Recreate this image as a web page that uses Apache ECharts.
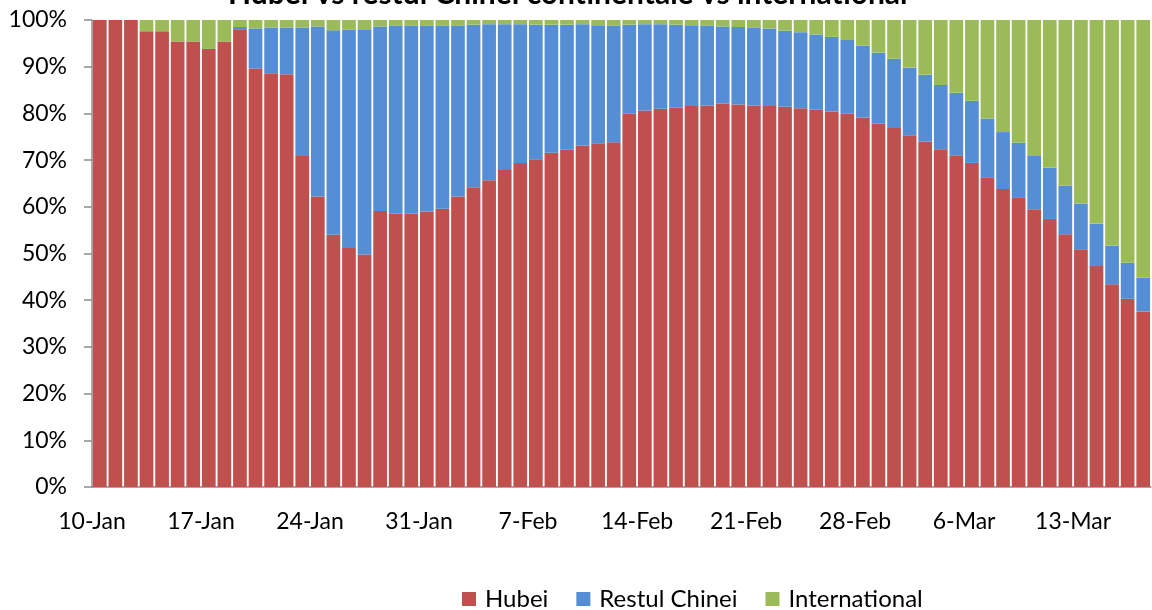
<!DOCTYPE html>
<html lang="ro">
<head>
    <meta charset="UTF-8">
    <title>Hubei vs restul Chinei continentale vs international</title>
    <style>
        * { padding: 0; margin: 0; }
        body { background: #fff; }
    </style>
</head>
<body>
<div id="share_chart" style="width: 1152px;height:610px;"></div>
<script src="https://cdn.jsdelivr.net/npm/echarts@6/dist/echarts.min.js"></script>
<script>
    // zilele 10-Jan .. 17-Mar
    var days = ['10-Jan','11-Jan','12-Jan','13-Jan','14-Jan','15-Jan','16-Jan','17-Jan','18-Jan','19-Jan',
        '20-Jan','21-Jan','22-Jan','23-Jan','24-Jan','25-Jan','26-Jan','27-Jan','28-Jan','29-Jan',
        '30-Jan','31-Jan','1-Feb','2-Feb','3-Feb','4-Feb','5-Feb','6-Feb','7-Feb','8-Feb',
        '9-Feb','10-Feb','11-Feb','12-Feb','13-Feb','14-Feb','15-Feb','16-Feb','17-Feb','18-Feb',
        '19-Feb','20-Feb','21-Feb','22-Feb','23-Feb','24-Feb','25-Feb','26-Feb','27-Feb','28-Feb',
        '29-Feb','1-Mar','2-Mar','3-Mar','4-Mar','5-Mar','6-Mar','7-Mar','8-Mar','9-Mar',
        '10-Mar','11-Mar','12-Mar','13-Mar','14-Mar','15-Mar','16-Mar','17-Mar'];

    // procente din total cazuri
    var hubei = [100, 100, 100, 97.6, 97.6, 95.4, 95.4, 93.8, 95.4, 98.0,
        89.6, 88.6, 88.4, 70.9, 62.2, 54.0, 51.2, 49.8, 59.1, 58.5,
        58.5, 59.0, 59.6, 62.2, 64.2, 65.7, 67.9, 69.4, 70.2, 71.6,
        72.2, 73.1, 73.6, 73.8, 79.9, 80.6, 81.0, 81.2, 81.6, 81.7,
        82.1, 81.9, 81.7, 81.6, 81.4, 81.1, 80.8, 80.4, 79.9, 79.1,
        77.8, 76.9, 75.3, 74.0, 72.3, 70.9, 69.4, 66.2, 63.8, 61.9,
        59.5, 57.4, 54.1, 50.9, 47.3, 43.4, 40.3, 37.6];
    var restulChinei = [0, 0, 0, 0, 0, 0, 0, 0, 0, 0.5,
        8.6, 9.8, 10.0, 27.5, 36.4, 43.8, 46.7, 48.2, 39.5, 40.3,
        40.3, 39.8, 39.2, 36.6, 34.8, 33.4, 31.2, 29.7, 28.8, 27.4,
        26.8, 26.0, 25.3, 25.0, 19.1, 18.5, 18.1, 17.8, 17.3, 17.1,
        16.5, 16.6, 16.6, 16.6, 16.3, 16.3, 16.1, 16.0, 15.8, 15.4,
        15.2, 14.8, 14.5, 14.3, 13.8, 13.5, 13.3, 12.7, 12.2, 11.8,
        11.4, 11.0, 10.4, 9.8, 9.1, 8.3, 7.7, 7.2];
    var international = [0, 0, 0, 2.4, 2.4, 4.6, 4.6, 6.2, 4.6, 1.5,
        1.8, 1.6, 1.6, 1.6, 1.4, 2.2, 2.1, 2.0, 1.4, 1.2,
        1.2, 1.2, 1.2, 1.2, 1.0, 0.9, 0.9, 0.9, 1.0, 1.0,
        1.0, 0.9, 1.1, 1.2, 1.0, 0.9, 0.9, 1.0, 1.1, 1.2,
        1.4, 1.5, 1.7, 1.8, 2.3, 2.6, 3.1, 3.6, 4.3, 5.5,
        7.0, 8.3, 10.2, 11.7, 13.9, 15.6, 17.3, 21.1, 24.0, 26.3,
        29.1, 31.6, 35.5, 39.3, 43.6, 48.3, 52.0, 55.2];

    var fontFam = 'Lato, "Open Sans", sans-serif';
    var share_chart = echarts.init(document.getElementById('share_chart'));
    var option = {
        animation: false,
        textStyle: { fontFamily: fontFam },
        title: {
            text: 'Hubei vs restul Chinei continentale vs international',
            left: 223,
            top: -26,
            textStyle: { fontSize: 30, fontWeight: 'bold', color: '#000', fontFamily: fontFam }
        },
        legend: {
            data: ['Hubei', 'Restul Chinei', 'International'],
            left: 457,
            top: 582,
            icon: 'rect',
            itemWidth: 14,
            itemHeight: 14,
            itemGap: 28,
            textStyle: { fontSize: 24, color: '#000', padding: [0, 0, 0, 4] }
        },
        grid: { left: 92, right: 1, top: 20, bottom: 123 },
        xAxis: {
            type: 'category',
            data: days,
            axisLine: { lineStyle: { color: '#8c8c8c', width: 1.5 } },
            axisTick: { interval: 6, length: 8, lineStyle: { color: '#8c8c8c', width: 1.5 } },
            axisLabel: {
                interval: 6,
                fontSize: 23,
                color: '#000',
                margin: 23,
                padding: [0, 15.6, 0, 0]
            }
        },
        yAxis: {
            type: 'value',
            min: 0,
            max: 100,
            interval: 10,
            axisLine: { show: true, lineStyle: { color: '#8c8c8c', width: 1.5 } },
            axisTick: { show: true, length: 8, lineStyle: { color: '#8c8c8c', width: 1.5 } },
            splitLine: { show: false },
            axisLabel: { formatter: '{value}%', fontSize: 23, color: '#000', margin: 25 }
        },
        series: [{
            name: 'Hubei',
            type: 'bar',
            stack: 'total',
            barCategoryGap: '12%',
            data: hubei,
            itemStyle: { color: '#c0504d' }
        }, {
            name: 'Restul Chinei',
            type: 'bar',
            stack: 'total',
            data: restulChinei,
            itemStyle: { color: '#558ed5' }
        }, {
            name: 'International',
            type: 'bar',
            stack: 'total',
            data: international,
            itemStyle: { color: '#9bbb59' }
        }]
    };
    share_chart.setOption(option);
</script>
</body>
</html>
